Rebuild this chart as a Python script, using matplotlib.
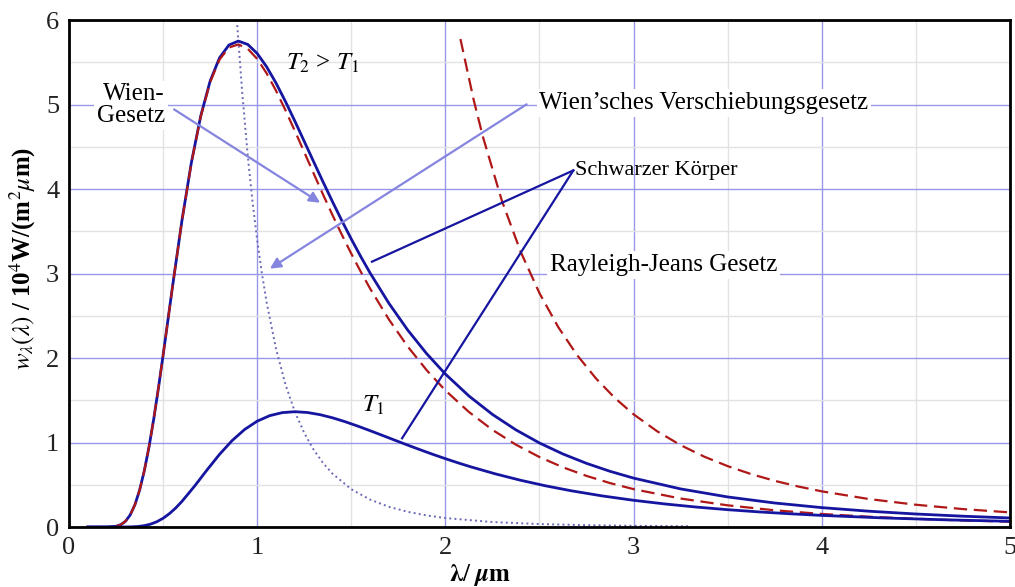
'''
Schwarzer Koerper: Planck curves with Wien and Rayleigh-Jeans.
'''
import matplotlib
matplotlib.use('Agg')
import matplotlib.pyplot as plt

plt.rcParams['font.family'] = ['Liberation Serif', 'DejaVu Serif']
plt.rcParams['mathtext.fontset'] = 'stix'

# values (wavelength in um, w in 10^4 W/(m^2 um))
lam_t2 = [0.10, 0.20, 0.25, 0.275, 0.30, 0.325, 0.35, 0.375, 0.40, 0.425,
          0.45, 0.475, 0.50, 0.525, 0.55, 0.60, 0.65, 0.70, 0.75, 0.80, 0.85,
          0.90, 0.95, 1.00, 1.05, 1.10, 1.15, 1.20, 1.25, 1.30, 1.35, 1.40,
          1.45, 1.50, 1.55, 1.60, 1.70, 1.80, 1.90, 2.00, 2.125, 2.25, 2.375,
          2.50, 2.625, 2.75, 2.875, 3.00, 3.25, 3.50, 3.75, 4.00, 4.25, 4.50,
          4.75, 5.00]
w_t2 = [0.0, 0.0003, 0.0086, 0.0270, 0.0677, 0.1425, 0.2626, 0.4357, 0.6646,
        0.9467, 1.2757, 1.6418, 2.0336, 2.4385, 2.8455, 3.6255, 4.3107, 4.8653,
        5.2782, 5.5537, 5.7045, 5.7510, 5.7107, 5.6040, 5.4468, 5.2540, 5.0364,
        4.8040, 4.5640, 4.3226, 4.0835, 3.8503, 3.6244, 3.4080, 3.2016, 3.0060,
        2.6471, 2.3303, 2.0528, 1.8103, 1.5508, 1.3326, 1.1492, 0.9945, 0.8639,
        0.7532, 0.6591, 0.5787, 0.4509, 0.3558, 0.2842, 0.2294, 0.1871, 0.1540,
        0.1279, 0.1070]

lam_wien = [0.25, 0.275, 0.30, 0.325, 0.35, 0.375, 0.40, 0.425, 0.45, 0.475,
            0.50, 0.525, 0.55, 0.60, 0.65, 0.70, 0.75, 0.80, 0.85, 0.90, 0.95,
            1.00, 1.05, 1.10, 1.15, 1.20, 1.25, 1.30, 1.35, 1.40, 1.45, 1.50,
            1.55, 1.60, 1.70, 1.80, 1.90, 2.00, 2.125, 2.25, 2.375, 2.50,
            2.625, 2.75, 2.875, 3.00, 3.25, 3.50, 3.75, 4.00, 4.25, 4.50, 4.75,
            5.00]
w_wien = [0.0086, 0.0270, 0.0677, 0.1425, 0.2626, 0.4357, 0.6646, 0.9467,
          1.2757, 1.6416, 2.0333, 2.4380, 2.8447, 3.6234, 4.3062, 4.8570,
          5.2646, 5.5328, 5.6749, 5.7106, 5.6590, 5.5397, 5.3696, 5.1636,
          4.9329, 4.6880, 4.4362, 4.1837, 3.9344, 3.6920, 3.4581, 3.2347,
          3.0224, 2.8219, 2.4559, 2.1356, 1.8573, 1.6165, 1.3614, 1.1497,
          0.9741, 0.8280, 0.7064, 0.6048, 0.5198, 0.4482, 0.3369, 0.2566,
          0.1978, 0.1544, 0.1217, 0.0970, 0.0780, 0.0632]

lam_t1 = [0.10, 0.2667, 0.3333, 0.3667, 0.40, 0.4333, 0.4667, 0.50, 0.5333,
          0.5667, 0.60, 0.6667, 0.7333, 0.80, 0.8667, 0.9333, 1.00, 1.0667,
          1.1333, 1.20, 1.2667, 1.3333, 1.40, 1.4667, 1.5333, 1.60, 1.6667,
          1.7333, 1.80, 1.8667, 1.9333, 2.00, 2.0667, 2.1333, 2.2667, 2.40,
          2.5333, 2.6667, 2.8333, 3.00, 3.1667, 3.3333, 3.50, 3.6667, 3.8333,
          4.00, 4.3333, 4.6667, 5.00]
w_t1 = [0.0, 0.0001, 0.0020, 0.0064, 0.0161, 0.0338, 0.0623, 0.1034, 0.1577,
        0.2247, 0.3027, 0.4826, 0.6752, 0.8603, 1.0229, 1.1545, 1.2525, 1.3179,
        1.3537, 1.3647, 1.3551, 1.3298, 1.2925, 1.2468, 1.1951, 1.1400, 1.0830,
        1.0258, 0.9690, 0.9137, 0.8601, 0.8087, 0.7597, 0.7133, 0.6282, 0.5530,
        0.4871, 0.4296, 0.3680, 0.3162, 0.2727, 0.2360, 0.2050, 0.1787, 0.1564,
        0.1373, 0.1070, 0.0844, 0.0674]

lam_rj = [2.08, 2.15, 2.20, 2.30, 2.40, 2.50, 2.60, 2.70, 2.80, 2.90, 3.00,
          3.125, 3.25, 3.375, 3.50, 3.625, 3.75, 3.875, 4.00, 4.25, 4.50, 4.75,
          5.00]
w_rj = [5.775, 5.0582, 4.614, 3.8625, 3.258, 2.7671, 2.365, 2.0339, 1.7586,
        1.5282, 1.334, 1.1334, 0.9689, 0.8331, 0.7204, 0.6260, 0.5466, 0.4794,
        0.4222, 0.3313, 0.2636, 0.2123, 0.1729]

lam_shift = [0.892, 0.92, 0.95, 0.975, 1.00, 1.025, 1.05, 1.10, 1.15, 1.20,
             1.25, 1.30, 1.35, 1.40, 1.50, 1.60, 1.70, 1.80, 1.90, 2.00, 2.25,
             2.50, 2.75, 3.00, 3.30]
w_shift = [6.0, 5.1517, 4.388, 3.8535, 3.3953, 3.0010, 2.660, 2.1082, 1.688,
           1.3645, 1.1126, 0.9145, 0.7572, 0.6313, 0.4471, 0.3238, 0.2391,
           0.1797, 0.1371, 0.1060, 0.0589, 0.0348, 0.0216, 0.0140, 0.0087]

blue = '#1515a0'
red = '#b01818'
pointer = '#8585e0'

fig = plt.figure(figsize=(10.15, 5.87), dpi=100)
ax = fig.add_axes([0.068, 0.1022, 0.927, 0.8637])

ax.plot(lam_shift, w_shift, ':', color='#6a6ab8', linewidth=1.4)
ax.plot(lam_t2, w_t2, '-', color=blue, linewidth=2.0,
        solid_joinstyle='round')
ax.plot(lam_wien, w_wien, '--', color=red, linewidth=1.6, dashes=(6, 3))
ax.plot(lam_t1, w_t1, '-', color=blue, linewidth=2.0,
        solid_joinstyle='round')
ax.plot(lam_rj, w_rj, '--', color=red, linewidth=1.6, dashes=(6, 3))

ax.set_xlim(0, 5)
ax.set_ylim(0, 6)
ax.set_xticks([0, 1, 2, 3, 4, 5])
ax.set_yticks([0, 1, 2, 3, 4, 5, 6])
ax.set_xticks([0.5, 1.5, 2.5, 3.5, 4.5], minor=True)
ax.set_yticks([0.5, 1.5, 2.5, 3.5, 4.5, 5.5], minor=True)
ax.grid(which='major', color='#9898e8', linewidth=1.0)
ax.grid(which='minor', color='#e2e2e2', linewidth=1.0)
ax.set_axisbelow(True)
ax.tick_params(which='both', length=0, labelsize=19, pad=7,
               labelcolor='#222222')
for s in ax.spines.values():
    s.set_linewidth(2.0)

ax.set_xlabel(r'$\boldsymbol{\lambda}$/ $\boldsymbol{\mu}$m', fontsize=18,
              fontweight='bold')
ax.xaxis.set_label_coords(0.437, -0.07)
ax.set_ylabel(r'$w_\lambda(\lambda)$ / 10$^4$W/(m$^2$$\mu$m)', fontsize=18,
              fontweight='bold')
ax.yaxis.set_label_coords(-0.033, 0.53)

box = dict(facecolor='white', edgecolor='none', pad=2)

ax.text(1.35, 5.49, r'$T_2$ > $T_1$', fontsize=18, ha='center',
        va='center')
ax.text(1.62, 1.44, r'$T_1$', fontsize=18, ha='center', va='center')

ax.annotate('', xy=(1.347, 3.82), xytext=(0.546, 4.96),
            arrowprops=dict(arrowstyle='-|>', color=pointer, lw=1.6,
                            mutation_scale=16))
ax.text(0.51, 4.99, 'Wien-\nGesetz', fontsize=18, ha='right', va='center',
        linespacing=1.0, bbox=box)

ax.annotate('', xy=(1.055, 3.04), xytext=(2.444, 5.02),
            arrowprops=dict(arrowstyle='-|>', color=pointer, lw=1.6,
                            mutation_scale=16))
ax.text(2.5, 5.02, 'Wien\u2019sches Verschiebungsgesetz', fontsize=18,
        ha='left', va='center', bbox=box)

ax.plot([2.68, 1.61], [4.22, 3.14], color=blue, linewidth=1.6)
ax.plot([2.68, 1.77], [4.22, 1.05], color=blue, linewidth=1.6)
ax.text(2.69, 4.22, 'Schwarzer Körper', fontsize=16, ha='left',
        va='center')

ax.text(3.16, 3.1, 'Rayleigh-Jeans Gesetz', fontsize=18, ha='center',
        va='center', bbox=box)

plt.savefig('out.png')
